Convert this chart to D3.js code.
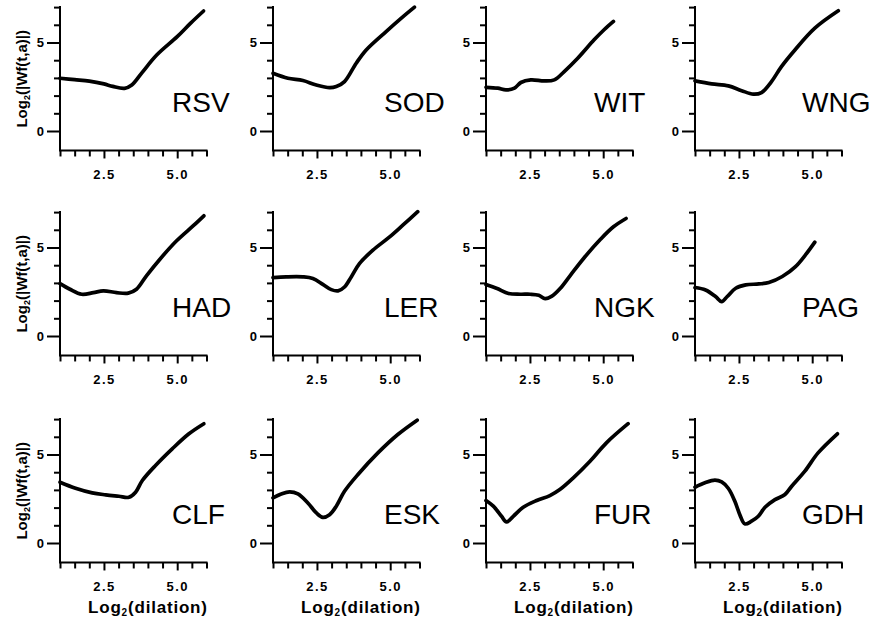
<!DOCTYPE html>
<html><head><meta charset="utf-8">
<script src="https://cdn.jsdelivr.net/npm/d3@7"></script>
<style>body{margin:0;background:#fff}svg{display:block}</style>
</head><body>
<script>
// ---- data (x = log2 dilation, y = log2 |Wf(t,a)|) ----
const stations = ["RSV","SOD","WIT","WNG","HAD","LER","NGK","PAG","CLF","ESK","FUR","GDH"];
const RSV = [[1.0,2.98],[1.5,2.90],[2.0,2.82],[2.5,2.66],[2.8,2.52],[3.2,2.41],[3.45,2.6],[3.8,3.3],[4.3,4.29],[5.0,5.33],[5.45,6.08],[5.9,6.78]];
const SOD = [[1.0,3.26],[1.51,2.98],[2.02,2.85],[2.48,2.6],[2.93,2.45],[3.16,2.51],[3.44,2.79],[3.84,3.83],[4.18,4.58],[4.86,5.62],[5.38,6.38],[5.83,7.0]];
const WIT = [[1.0,2.47],[1.4,2.42],[1.68,2.32],[1.97,2.42],[2.19,2.74],[2.53,2.89],[2.99,2.83],[3.33,2.89],[3.67,3.36],[4.13,4.11],[4.69,5.15],[5.03,5.72],[5.35,6.19]];
const WNG = [[1.0,2.83],[1.57,2.66],[2.14,2.55],[2.59,2.28],[2.99,2.08],[3.27,2.17],[3.61,2.79],[3.95,3.64],[4.41,4.58],[5.09,5.81],[5.89,6.79]];
const HAD = [[1.0,2.96],[1.34,2.64],[1.74,2.36],[2.14,2.45],[2.48,2.55],[2.93,2.45],[3.33,2.42],[3.61,2.64],[3.95,3.4],[4.41,4.34],[4.98,5.38],[5.55,6.23],[5.91,6.79]];
const LER = [[1.0,3.3],[1.45,3.34],[2.02,3.34],[2.36,3.25],[2.7,2.92],[2.99,2.62],[3.22,2.55],[3.44,2.77],[3.67,3.34],[3.95,4.09],[4.41,4.85],[4.98,5.6],[5.43,6.26],[5.94,7.02]];
const NGK = [[1.0,2.91],[1.38,2.68],[1.77,2.4],[2.17,2.36],[2.51,2.36],[2.8,2.3],[3.02,2.11],[3.25,2.25],[3.53,2.68],[3.88,3.43],[4.33,4.38],[4.9,5.45],[5.35,6.17],[5.78,6.64]];
const PAG = [[1.0,2.74],[1.36,2.6],[1.7,2.23],[1.91,1.94],[2.1,2.23],[2.39,2.7],[2.73,2.89],[3.18,2.94],[3.52,3.02],[3.98,3.36],[4.43,3.92],[4.77,4.58],[5.09,5.3]];
const CLF = [[1.0,3.43],[1.53,3.09],[2.1,2.83],[2.56,2.72],[3.01,2.64],[3.35,2.58],[3.58,2.87],[3.81,3.53],[4.26,4.38],[4.83,5.32],[5.4,6.17],[5.91,6.74]];
const ESK = [[1.0,2.55],[1.28,2.77],[1.57,2.89],[1.85,2.77],[2.19,2.26],[2.48,1.7],[2.7,1.45],[2.93,1.6],[3.16,2.08],[3.44,2.92],[3.9,3.87],[4.58,5.09],[5.26,6.13],[5.92,6.94]];
const FUR = [[1.0,2.4],[1.25,2.08],[1.53,1.51],[1.7,1.19],[1.93,1.51],[2.27,2.02],[2.73,2.4],[3.18,2.68],[3.52,3.02],[3.98,3.68],[4.55,4.62],[5.11,5.66],[5.85,6.74]];
const GDH = [[1.0,3.15],[1.34,3.4],[1.68,3.55],[1.91,3.45],[2.14,3.08],[2.36,2.36],[2.53,1.6],[2.7,1.08],[2.93,1.23],[3.16,1.51],[3.39,2.02],[3.73,2.45],[4.07,2.74],[4.3,3.21],[4.75,4.06],[5.2,5.09],[5.86,6.17]];
const series = {RSV,SOD,WIT,WNG,HAD,LER,NGK,PAG,CLF,ESK,FUR,GDH};
const xTicks = [1,1.5,2,2.5,3,3.5,4,4.5,5,5.5,6];
const xLabelTicks = [2.5,5];
const yTicks = [0,1,2,3,4,5,6,7];
const yLabelTicks = [0,5];

// ---- layout ----
const W = 875, H = 629;
const colX = [60, 273, 486, 695];
const labelOff = [112, 111, 108, 107];
const rowY0 = [131, 336, 543];   // pixel of y=0
const unitX = 29.3, unitY = 17.7;
const xDom = [1, 6], yDom = [-1.1, 7];

const svg = d3.select("body").append("svg").attr("width", W).attr("height", H)
  .style("font-family", "'Liberation Sans', Arial, sans-serif");

stations.forEach((name, i) => {
  const c = i % 4, r = Math.floor(i / 4);
  const x = d3.scaleLinear().domain(xDom).range([colX[c], colX[c] + unitX * (xDom[1] - xDom[0])]);
  const y = d3.scaleLinear().domain([0, 7]).range([rowY0[r], rowY0[r] - 7 * unitY]);
  const yBottom = y(yDom[0]);
  const g = svg.append("g");

  // x axis
  const xa = g.append("g").attr("transform", `translate(0,${yBottom})`)
    .call(d3.axisBottom(x).tickValues(xTicks).tickSizeOuter(0)
      .tickFormat(d => xLabelTicks.includes(d) ? d3.format(".1f")(d) : ""));
  xa.select(".domain").attr("stroke-width", 2).attr("d", `M${x(xDom[0])-1},0H${x(xDom[1])+1}`);
  xa.selectAll(".tick line").attr("stroke-width", 2)
    .attr("y2", d => xLabelTicks.includes(d) ? 8 : 6);
  xa.selectAll(".tick text").attr("y", 19).attr("dy", "0.71em")
    .style("font-size", "13px").style("font-weight", "bold").style("letter-spacing", "1.5px");

  // y axis
  const ya = g.append("g").attr("transform", `translate(${x(xDom[0])},0)`)
    .call(d3.axisLeft(y).tickValues(yTicks).tickSizeOuter(0)
      .tickFormat(d => yLabelTicks.includes(d) ? String(d) : ""));
  ya.select(".domain").attr("stroke-width", 2).attr("d", `M0,${y(yDom[1])-1}V${yBottom}`);
  ya.selectAll(".tick line").attr("stroke-width", 2)
    .attr("x2", d => yLabelTicks.includes(d) ? -13 : -6);
  ya.selectAll(".tick text").attr("x", -16)
    .style("font-size", "13px").style("font-weight", "bold");

  // curve
  const line = d3.line().x(d => x(d[0])).y(d => y(d[1])).curve(d3.curveCatmullRom.alpha(0.5));
  g.append("path").datum(series[name]).attr("d", line)
    .attr("fill", "none").attr("stroke", "#000").attr("stroke-width", 3.7)
    .attr("stroke-linecap", "round").attr("stroke-linejoin", "round");

  // station label
  g.append("text").attr("x", colX[c] + labelOff[c]).attr("y", y(1) - 1)
    .style("font-size", "28px").text(name);

  // y title on first column
  if (c === 0) {
    const t = g.append("text")
      .attr("transform", `translate(27,${(y(yDom[1]) + yBottom) / 2}) rotate(-90)`)
      .attr("text-anchor", "middle").style("font-size", "15px").style("font-weight", "bold");
    t.append("tspan").text("Log");
    t.append("tspan").attr("dy", 3).style("font-size", "9px").text("2");
    t.append("tspan").attr("dy", -3).text("(|Wf(t,a)|)");
  }
  // x title on last row
  if (r === 2) {
    const t = g.append("text")
      .attr("x", x(4.0)).attr("y", yBottom + 51)
      .attr("text-anchor", "middle").style("font-size", "17px").style("font-weight", "bold")
      .style("letter-spacing", "0.8px");
    t.append("tspan").text("Log");
    t.append("tspan").attr("dy", 3).style("font-size", "10px").text("2");
    t.append("tspan").attr("dy", -3).text("(dilation)");
  }
});
</script>
</body></html>
